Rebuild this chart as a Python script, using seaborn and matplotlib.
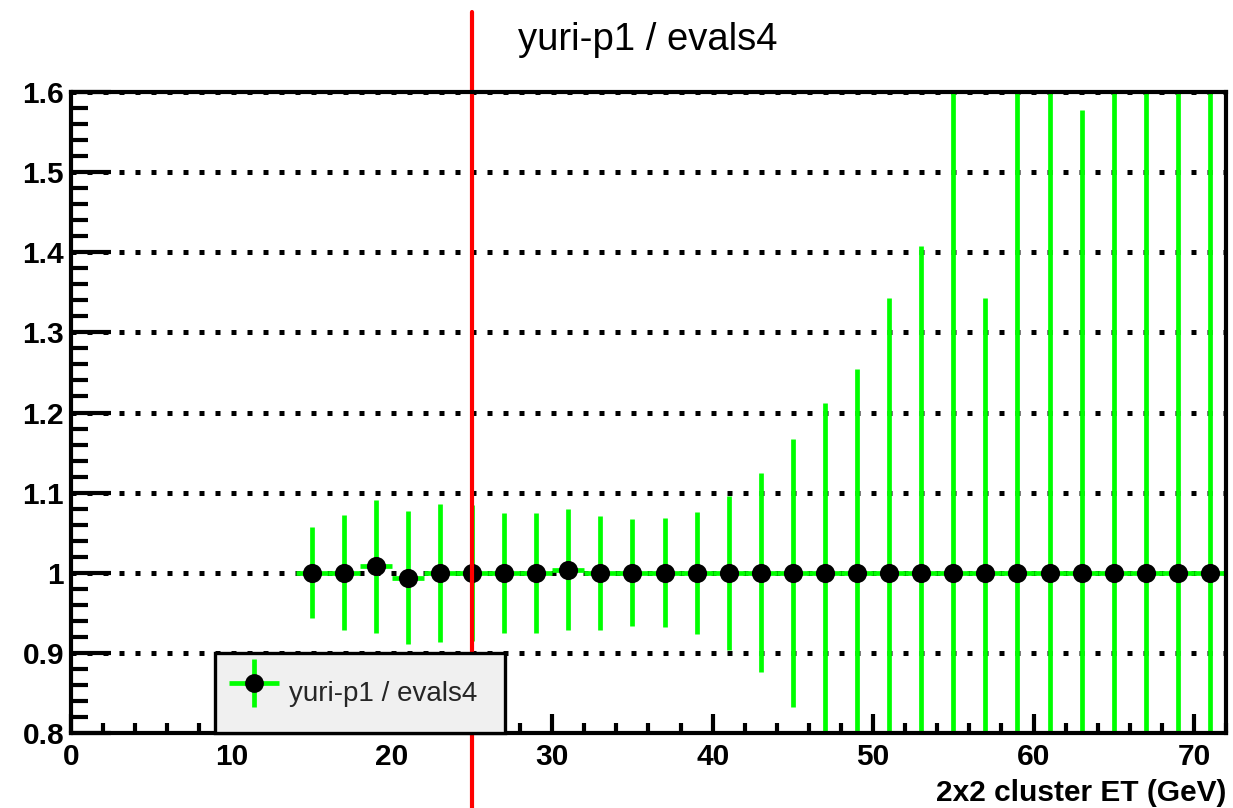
import numpy as np
import pandas as pd
import matplotlib
matplotlib.use("Agg")
import matplotlib.pyplot as plt
import seaborn as sns
from matplotlib.lines import Line2D
from matplotlib.container import ErrorbarContainer
from matplotlib.legend_handler import HandlerErrorbar
from matplotlib.ticker import MultipleLocator, FixedLocator, FixedFormatter

# Ratio yuri-p1 / evals4 per 2 GeV bin of 2x2 cluster ET
bin_centers = [15, 17, 19, 21, 23, 25, 27, 29, 31, 33, 35, 37, 39, 41, 43,
               45, 47, 49, 51, 53, 55, 57, 59, 61, 63, 65, 67, 69, 71]
ratio = [1.000, 1.000, 1.008, 0.994, 1.000, 1.000, 1.000, 1.000, 1.004, 1.000,
         1.000, 1.000, 1.000, 1.000, 1.000, 1.000, 1.000, 1.000, 1.000, 1.000,
         1.000, 1.000, 1.000, 1.000, 1.000, 1.000, 1.000, 1.000, 1.000]
ratio_err = [0.057, 0.072, 0.083, 0.083, 0.086, 0.085, 0.075, 0.075, 0.075, 0.071,
             0.067, 0.068, 0.076, 0.096, 0.124, 0.167, 0.212, 0.254, 0.343, 0.408,
             0.800, 0.343, 0.800, 0.800, 0.578, 0.800, 0.800, 0.800, 0.800]
bin_half_width = 1.0
threshold_et = 25

x_major_ticks = [0, 10, 20, 30, 40, 50, 60, 70]
x_tick_labels = ["0", "10", "20", "30", "40", "50", "60", "70"]
y_major_ticks = [0.8, 0.9, 1.0, 1.1, 1.2, 1.3, 1.4, 1.5, 1.6]
y_tick_labels = ["0.8", "0.9", "1", "1.1", "1.2", "1.3", "1.4", "1.5", "1.6"]

title_text = "yuri-p1 / evals4"
legend_text = "yuri-p1 / evals4"
x_title = "2x2 cluster ET (GeV)"

df = pd.DataFrame({"et": bin_centers, "ratio": ratio, "err": ratio_err})

sns.set_theme(style="ticks")
plt.rcParams["font.family"] = ["Liberation Sans", "DejaVu Sans"]

GREEN = "#00ff00"

fig = plt.figure(figsize=(12.33, 8.08), dpi=100)
ax = fig.add_axes([71 / 1233, 75 / 808, 1155 / 1233, 641 / 808])

# dotted horizontal grid at the major y ticks
ax.yaxis.grid(True, which="major", color="black", linestyle=(0, (1, 2.2)),
              linewidth=3.6, zorder=0.5)
ax.xaxis.grid(False)
ax.set_axisbelow(True)

eb = ax.errorbar(df["et"], df["ratio"], xerr=bin_half_width, yerr=df["err"],
                 fmt="none", ecolor=GREEN, elinewidth=3.4, capsize=0, zorder=2)
sns.scatterplot(data=df, x="et", y="ratio", color="black", edgecolor="black",
                s=190, linewidth=0, zorder=3, ax=ax, legend=False)

# ET threshold line, running past the frame
ax.axvline(threshold_et, ymin=-75 / 641, ymax=721 / 641, color="#ff0000",
           linewidth=3.0, clip_on=False, zorder=3.5)

ax.set_xlim(0, 72)
ax.set_ylim(0.8, 1.6)

ax.xaxis.set_major_locator(FixedLocator(x_major_ticks))
ax.xaxis.set_major_formatter(FixedFormatter(x_tick_labels))
ax.xaxis.set_minor_locator(MultipleLocator(2))
ax.yaxis.set_major_locator(FixedLocator(y_major_ticks))
ax.yaxis.set_major_formatter(FixedFormatter(y_tick_labels))
ax.yaxis.set_minor_locator(MultipleLocator(0.02))

ax.tick_params(axis="both", which="both", direction="in", color="black",
               width=3, top=False, right=False)
ax.tick_params(axis="x", which="major", length=14, pad=7)
ax.tick_params(axis="x", which="minor", length=7)
ax.tick_params(axis="y", which="major", length=29, pad=5)
ax.tick_params(axis="y", which="minor", length=12)
for lab in ax.get_xticklabels() + ax.get_yticklabels():
    lab.set_fontsize(21.5)
    lab.set_fontweight("bold")
    lab.set_color("black")

for sp in ax.spines.values():
    sp.set_visible(True)
    sp.set_color("black")
    sp.set_linewidth(3)
    sp.set_zorder(6)

ax.set_ylabel("")
ax.set_xlabel(x_title, fontsize=21.5, fontweight="bold", color="black", ha="right")
ax.xaxis.set_label_coords(1.0, -0.072)

fig.text(648 / 1233, 1 - 50 / 808, title_text, ha="center", va="baseline",
         fontsize=27.5, color="black")

# legend box sits over the threshold line, so it lives at figure level
marker_handle = Line2D([], [], marker="o", linestyle="none", color="black",
                       markersize=12.5)
leg = fig.legend(handles=[(eb, marker_handle)], labels=[legend_text],
                 handler_map={ErrorbarContainer: HandlerErrorbar(xerr_size=0.9, yerr_size=0.87)},
                 loc="lower left", bbox_to_anchor=(144 / 1155, 0.0, 290 / 1155, 0.12),
                 bbox_transform=ax.transAxes,
                 mode="expand", borderaxespad=0, borderpad=0.4, handlelength=2.0,
                 handleheight=2.8, handletextpad=0.25, fontsize=20, frameon=True,
                 fancybox=False, framealpha=1, facecolor="#f0f0f0", edgecolor="black")
leg.get_frame().set_linewidth(2.4)

fig.savefig("out.png", dpi=100, facecolor="white")
